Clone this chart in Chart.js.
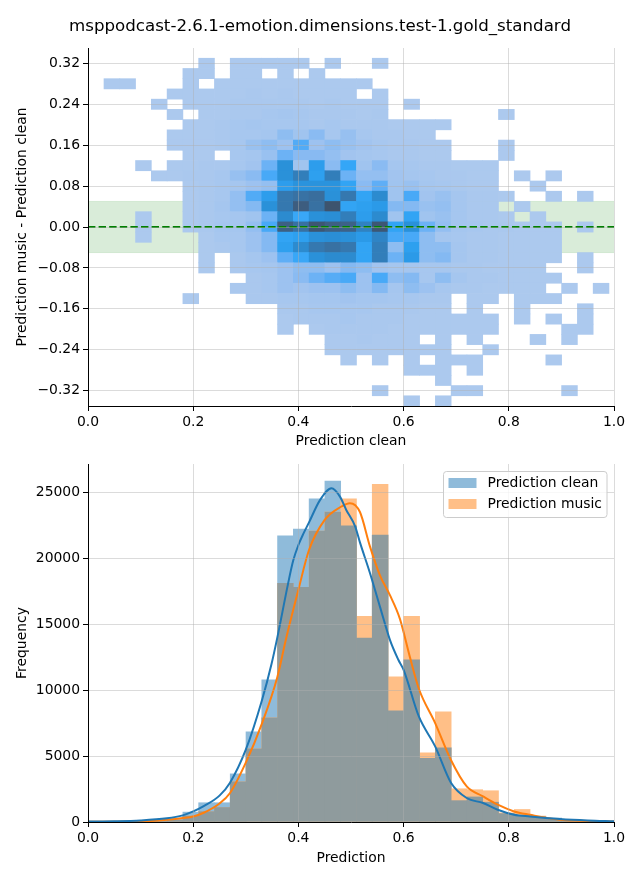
<!DOCTYPE html>
<html><head><meta charset="utf-8">
<script src="https://cdn.jsdelivr.net/npm/chart.js@4.4.1/dist/chart.umd.min.js"></script>
<style>
html,body{margin:0;padding:0;background:#fff;}
#wrap{position:relative;width:640px;height:880px;overflow:hidden;background:#fff;}
#title{position:absolute;left:0;top:16px;width:640px;text-align:center;font-family:"DejaVu Sans";font-size:16.67px;line-height:20px;color:#000;white-space:nowrap;}
#c1{position:absolute;left:0;top:0;width:640px;height:450px;}
#c2{position:absolute;left:0;top:450px;width:640px;height:430px;}
</style></head><body>
<div id="wrap">
<canvas id="c1" width="640" height="450"></canvas>
<canvas id="c2" width="640" height="430"></canvas>
<div id="title">msppodcast-2.6.1-emotion.dimensions.test-1.gold_standard</div>
</div>
<script>
// ---------------- DATA ----------------
const xTicks = [0, 0.2, 0.4, 0.6, 0.8, 1.0];
const topYTicks = [-0.32, -0.24, -0.16, -0.08, 0, 0.08, 0.16, 0.24, 0.32];
const freqTicks = [0, 5000, 10000, 15000, 20000, 25000];

const binCenters = [0.0154,0.0454,0.0754,0.1054,0.1354,0.1654,0.1954,0.2254,0.2554,0.2854,0.3154,0.3454,0.3754,0.4054,0.4354,0.4654,0.4954,0.5254,0.5554,0.5854,0.6154,0.6454,0.6754,0.7054,0.7354,0.7654,0.7954,0.8254,0.8554,0.8854,0.9154,0.9454,0.9754];
const rowCenters = [0.32,0.30,0.28,0.26,0.24,0.22,0.20,0.18,0.16,0.14,0.12,0.10,0.08,0.06,0.04,0.02,0.00,-0.02,-0.04,-0.06,-0.08,-0.10,-0.12,-0.14,-0.16,-0.18,-0.20,-0.22,-0.24,-0.26,-0.28,-0.30,-0.32,-0.34];
const rowHalfHeight = 0.01;

// relative counts per cell (rows follow rowCenters, columns follow binCenters)
const cellCounts = [
 [0,0,0,0,0,0,0,1,0,1,1,1,1,1,0,1,0,0,1,0,0,0,0,0,0,0,0,0,0,0,0,0,0],
 [0,0,0,0,0,0,1,1,0,1,1,0,1,0,1,0,0,0,0,0,0,0,0,0,0,0,0,0,0,0,0,0,0],
 [0,1,1,0,0,0,1,0,1,1,1,1,1,1,1,1,1,1,0,0,0,0,0,0,0,0,0,0,0,0,0,0,0],
 [0,0,0,0,0,1,1,1,1,1,2,1,2,1,1,1,1,0,1,0,0,0,0,0,0,0,0,0,0,0,0,0,0],
 [0,0,0,0,1,0,1,1,1,2,2,2,2,2,1,2,1,1,1,0,1,0,0,0,0,0,0,0,0,0,0,0,0],
 [0,0,0,0,0,1,0,1,1,2,2,3,4,3,2,2,2,1,2,0,0,0,0,0,0,0,1,0,0,0,0,0,0],
 [0,0,0,0,0,0,1,1,2,3,4,3,3,3,2,3,2,2,2,1,1,1,1,0,0,0,0,0,0,0,0,0,0],
 [0,0,0,0,0,1,1,1,2,3,3,4,12,6,13,3,9,3,2,2,1,1,0,0,0,0,0,0,0,0,0,0,0],
 [0,0,0,0,0,1,1,1,2,3,8,12,7,28,7,12,8,5,3,2,2,1,1,0,0,0,1,0,0,0,0,0,0],
 [0,0,0,0,0,0,1,1,0,3,4,8,22,14,14,10,5,4,3,2,2,1,1,0,0,0,1,0,0,0,0,0,0],
 [0,0,0,1,0,1,1,2,2,3,5,22,50,6,40,13,33,6,13,4,3,2,2,1,1,1,0,0,0,0,0,0,0],
 [0,0,0,0,1,1,2,2,3,9,13,30,50,65,38,65,22,10,10,5,4,3,2,2,1,1,0,1,0,1,0,0,0],
 [0,0,0,0,0,0,1,2,3,4,7,10,40,48,48,48,35,13,25,6,8,4,3,2,1,1,0,0,1,0,0,0,0],
 [0,0,0,0,0,0,1,2,3,10,28,40,70,75,78,50,70,35,55,6,30,5,8,4,2,2,1,0,0,1,0,1,0],
 [0,0,0,0,0,0,1,2,4,10,15,50,70,92,76,100,35,38,42,15,15,8,10,4,2,2,0,1,0,0,0,0,0],
 [0,0,0,1,0,0,1,2,3,4,6,22,55,32,50,52,65,40,55,6,35,6,8,4,2,2,1,0,1,0,0,0,0],
 [0,0,0,1,0,0,1,2,4,4,10,30,90,76,98,90,88,62,97,35,50,22,10,4,3,2,2,1,1,1,0,1,0],
 [0,0,0,1,0,0,0,1,3,3,7,15,35,38,50,52,50,42,60,30,30,12,4,3,2,2,1,1,1,1,0,0,0],
 [0,0,0,0,0,0,0,1,2,3,7,15,38,55,70,76,70,35,65,12,38,12,12,4,2,2,1,1,1,1,0,0,0],
 [0,0,0,0,0,0,0,1,0,2,4,7,25,32,50,55,55,35,65,22,42,12,15,4,2,2,1,1,1,1,0,1,0],
 [0,0,0,0,0,0,0,1,0,2,3,4,7,12,12,7,15,12,5,4,4,3,3,2,2,1,1,1,1,0,0,1,0],
 [0,0,0,0,0,0,0,0,0,0,2,3,7,13,22,27,30,7,30,12,15,3,12,4,2,2,1,1,1,1,0,0,0],
 [0,0,0,0,0,0,0,0,0,2,2,3,7,5,7,7,12,7,15,4,12,7,3,2,2,1,1,1,1,0,1,0,1],
 [0,0,0,0,0,0,1,0,0,0,2,2,3,3,4,4,5,4,4,3,3,2,2,0,1,1,0,1,1,1,0,0,0],
 [0,0,0,0,0,0,0,0,0,0,0,0,2,2,3,3,3,3,2,2,2,1,1,0,1,0,0,1,0,0,0,1,0],
 [0,0,0,0,0,0,0,0,0,0,0,0,1,2,2,2,3,2,2,2,1,1,1,1,1,1,0,1,0,1,0,1,0],
 [0,0,0,0,0,0,0,0,0,0,0,0,1,0,1,2,2,2,2,1,1,1,1,1,1,1,0,0,0,0,1,1,0],
 [0,0,0,0,0,0,0,0,0,0,0,0,0,0,0,1,1,2,1,1,1,0,1,0,1,0,0,0,1,0,1,0,0],
 [0,0,0,0,0,0,0,0,0,0,0,0,0,0,0,1,1,1,1,1,1,1,1,0,0,1,0,0,0,0,0,0,0],
 [0,0,0,0,0,0,0,0,0,0,0,0,0,0,0,0,1,0,1,0,1,0,1,1,1,0,0,0,0,1,0,0,0],
 [0,0,0,0,0,0,0,0,0,0,0,0,0,0,0,0,0,0,0,0,1,1,1,0,1,0,0,0,0,0,0,0,0],
 [0,0,0,0,0,0,0,0,0,0,0,0,0,0,0,0,0,0,0,0,0,0,1,0,0,0,0,0,0,0,0,0,0],
 [0,0,0,0,0,0,0,0,0,0,0,0,0,0,0,0,0,0,1,0,0,0,0,1,1,0,0,0,0,0,1,0,0],
 [0,0,0,0,0,0,0,0,0,0,0,0,0,0,0,0,0,0,0,0,1,0,1,0,0,0,0,0,0,0,0,0,0]
];

const bandLimits = [-0.05, 0.05];

const cleanCounts = [20,30,50,80,130,250,750,1460,1460,3650,6840,10780,21700,22200,24500,25850,22450,13950,21750,8430,12300,4820,5630,1620,1900,1500,640,490,400,300,200,120,60];
const musicCounts = [10,20,30,50,80,150,450,790,1100,3050,5550,7900,18100,17800,22050,23500,24500,15600,25600,11000,15600,5250,8350,2520,2450,2370,700,950,450,250,150,80,40];

const kdeCleanX = [0.0,0.05,0.10,0.15,0.18,0.20,0.22,0.25,0.27,0.30,0.331,0.349,0.36,0.38,0.39,0.40,0.41,0.42,0.441,0.463,0.479,0.491,0.508,0.517,0.536,0.555,0.574,0.59,0.60,0.629,0.66,0.69,0.72,0.751,0.779,0.81,0.84,0.897,0.95,1.0];
const kdeCleanY = [40,60,120,280,500,800,1200,2000,2980,5480,9270,12000,14000,18000,19800,21000,21900,22700,24400,25300,24670,23660,22400,21200,18880,16330,13810,12300,11540,8000,5730,2980,1820,1440,930,550,420,230,120,60];
const kdeMusicX = [0.0,0.08,0.12,0.15,0.18,0.20,0.22,0.25,0.27,0.30,0.331,0.36,0.376,0.40,0.42,0.45,0.481,0.498,0.517,0.536,0.555,0.574,0.593,0.612,0.629,0.66,0.69,0.72,0.751,0.779,0.81,0.84,0.897,0.935,1.0];
const kdeMusicY = [10,30,80,170,300,420,700,1400,2200,4500,7500,11000,13800,17600,20600,22900,23900,24170,23500,20900,18700,17200,15400,12500,10100,7500,4700,2700,1940,1310,800,550,170,100,30];

// ---------------- HUSL colormap (seaborn style) ----------------
const M = [[3.240969941904521,-1.537383177570093,-0.498610760293],[-0.96924363628087,1.87596750150772,0.041555057407175],[0.055630079696993,-0.20397695888897,1.056971514242878]];
const MINV = [[0.41239079926595,0.35758433938387,0.18048078840183],[0.21263900587151,0.71516867876775,0.072192315360733],[0.019330818715591,0.11919477979462,0.95053215224966]];
const REF_U = 0.19783000664283, REF_V = 0.46831999493879, KAPPA = 903.2962962, EPS = 0.0088564516;
function bounds(L){const sub1=Math.pow(L+16,3)/1560896;const sub2=sub1>EPS?sub1:L/KAPPA;const out=[];for(const [m1,m2,m3] of M){for(const t of [0,1]){const top1=(284517*m1-94839*m3)*sub2;const top2=(838422*m3+769860*m2+731718*m1)*L*sub2-769860*t*L;const bottom=(632260*m3-126452*m2)*sub2+126452*t;out.push([top1/bottom,top2/bottom]);}}return out;}
function maxChroma(L,H){const hr=H/360*Math.PI*2;let mn=Infinity;for(const [s,i] of bounds(L)){const len=i/(Math.sin(hr)-s*Math.cos(hr));if(len>=0&&len<mn)mn=len;}return mn;}
function huslToRgb(H,S,L){if(L>99.9999999)return[1,1,1];if(L<1e-8)return[0,0,0];const C=maxChroma(L,H)/100*S;const hr=H/180*Math.PI;const U=Math.cos(hr)*C,V=Math.sin(hr)*C;const vu=U/(13*L)+REF_U,vv=V/(13*L)+REF_V;const Y=L<=8?L/KAPPA:Math.pow((L+16)/116,3);const X=0-(9*Y*vu)/((vu-4)*vv-vu*vv);const Z=(9*Y-15*vv*Y-vv*X)/(3*vv);return M.map(r=>{const c=r[0]*X+r[1]*Y+r[2]*Z;return c<=0.0031308?12.92*c:1.055*Math.pow(c,1/2.4)-0.055;});}
function rgbToHusl(r,g,b){const lin=[r,g,b].map(c=>c>0.04045?Math.pow((c+0.055)/1.055,2.4):c/12.92);const [X,Y,Z]=MINV.map(row=>row[0]*lin[0]+row[1]*lin[1]+row[2]*lin[2]);const L=Y<=EPS?Y*KAPPA:116*Math.cbrt(Y)-16;const d=X+15*Y+3*Z;const vu=4*X/d,vv=9*Y/d;const U=13*L*(vu-REF_U),V=13*L*(vv-REF_V);const C=Math.hypot(U,V);let H=Math.atan2(V,U)*180/Math.PI;if(H<0)H+=360;return[H,C/maxChroma(L,H)*100,L];}
const [h0,s0] = rgbToHusl(31/255,119/255,180/255);
const cmapColors = [];
for(let i=0;i<256;i++){const xx=-1+2*i/293;const L=35+45*i/255;cmapColors.push(huslToRgb(h0,s0*Math.cos(xx),L));}
cmapColors.reverse();
function cmap(t){const idx=Math.min(255,Math.max(0,Math.floor(t*256)));const c=cmapColors[idx].map(v=>Math.round(Math.min(1,Math.max(0,v))*255));return `rgb(${c[0]},${c[1]},${c[2]})`;}

// ---------------- build cells ----------------
const cellData = [], cellColors = [];
let vmin = Infinity, vmax = -Infinity;
cellCounts.forEach(r => r.forEach(v => { if (v > 0) { vmin = Math.min(vmin, v); vmax = Math.max(vmax, v); } }));
rowCenters.forEach((yc, ri) => {
  binCenters.forEach((xc, ci) => {
    const v = cellCounts[ri][ci];
    if (v > 0) {
      cellData.push({x: xc, y: [yc - rowHalfHeight, yc + rowHalfHeight]});
      cellColors.push(cmap((v - vmin) / (vmax - vmin)));
    }
  });
});

// ---------------- common styling ----------------
const FONT = {family: 'DejaVu Sans', size: 13.9};
const GRID = 'rgba(176,176,176,0.45)';
Chart.defaults.font.family = 'DejaVu Sans';
Chart.defaults.color = '#000';
const fmtMinus = (s) => s.replace('-', '\u2212');

function xAxis(title, height, titlePadBottom) {
  return {
    type: 'linear', min: 0, max: 1, offset: false, bounds: 'data',
    afterBuildTicks: (a) => { a.ticks = xTicks.map(v => ({value: v})); },
    afterFit: (s) => { s.height = height; },
    grid: {offset: false, color: GRID, lineWidth: 1, z: 1, drawTicks: true, tickLength: 5, tickColor: '#000', tickWidth: 1},
    border: {display: true, color: '#000', width: 1, z: 2},
    ticks: {color: '#000', font: FONT, padding: 3, maxRotation: 0, autoSkip: false, callback: (v) => Number(v).toFixed(1)},
    title: {display: true, text: title, color: '#000', font: FONT, padding: {top: 0, bottom: titlePadBottom}}
  };
}
function yAxis(title, min, max, ticks, fmt) {
  return {
    type: 'linear', min: min, max: max, bounds: 'data',
    afterBuildTicks: (a) => { a.ticks = ticks.map(v => ({value: v})); },
    afterFit: (s) => { s.width = 88; },
    grid: {color: GRID, lineWidth: 1, z: 1, drawTicks: true, tickLength: 5, tickColor: '#000', tickWidth: 1},
    border: {display: true, color: '#000', width: 1, z: 2},
    ticks: {color: '#000', font: FONT, padding: 3, autoSkip: false, callback: fmt},
    title: {display: true, text: title, color: '#000', font: FONT, padding: {top: 14.4, bottom: 0}}
  };
}

// ---------------- top chart: 2D histogram ----------------
new Chart(document.getElementById('c1'), {
  type: 'bar',
  data: {
    datasets: [
      {type: 'line', data: [{x: 0, y: bandLimits[1]}, {x: 1, y: bandLimits[1]}], fill: {value: bandLimits[0]},
       backgroundColor: 'rgba(0,128,0,0.15)', borderColor: 'rgba(0,128,0,0.12)', borderWidth: 1, pointRadius: 0, order: 10},
      {type: 'line', data: [{x: 0, y: bandLimits[0]}, {x: 1, y: bandLimits[0]}], fill: false,
       borderColor: 'rgba(0,128,0,0.12)', borderWidth: 1, pointRadius: 0, order: 9},
      {type: 'bar', data: cellData, backgroundColor: cellColors, borderWidth: 0, grouped: false,
       barPercentage: 1, categoryPercentage: 1, order: 5},
      {type: 'line', data: [{x: 0, y: 0}, {x: 1, y: 0}], borderColor: '#008000', borderWidth: 2,
       borderDash: [7.4, 3.2], pointRadius: 0, fill: false, order: 1}
    ]
  },
  options: {
    animation: false, responsive: false, devicePixelRatio: 1, events: [],
    layout: {padding: {left: 0, right: 26, top: 48, bottom: 0}},
    plugins: {legend: {display: false}, tooltip: {enabled: false}, title: {display: false}},
    scales: {
      x: xAxis('Prediction clean', 44, 0),
      y: yAxis('Prediction music - Prediction clean', -0.35, 0.35, topYTicks, (v) => fmtMinus(Number(v).toFixed(2)))
    }
  }
});

// ---------------- bottom chart: histograms + KDE ----------------
// Colours of the two half-transparent layers as composited on white (music under clean)
const CLEAN_FILL = 'rgb(143,187,218)';
const MUSIC_FILL = 'rgb(255,191,135)';
const OVERLAP_FILL = 'rgb(143,155,157)';
const overlapCounts = cleanCounts.map((v, i) => Math.min(v, musicCounts[i]));

const legendItems = [
  {label: 'Prediction clean', color: CLEAN_FILL},
  {label: 'Prediction music', color: MUSIC_FILL}
];
const mplLegend = {
  id: 'mplLegend',
  afterDraw(chart) {
    const ctx = chart.ctx, a = chart.chartArea;
    const w = 163.5, h = 46, x0 = a.right - 7 - w, y0 = a.top + 7.5, r = 3;
    ctx.save();
    ctx.beginPath();
    ctx.moveTo(x0 + r, y0); ctx.lineTo(x0 + w - r, y0); ctx.arcTo(x0 + w, y0, x0 + w, y0 + r, r);
    ctx.lineTo(x0 + w, y0 + h - r); ctx.arcTo(x0 + w, y0 + h, x0 + w - r, y0 + h, r);
    ctx.lineTo(x0 + r, y0 + h); ctx.arcTo(x0, y0 + h, x0, y0 + h - r, r);
    ctx.lineTo(x0, y0 + r); ctx.arcTo(x0, y0, x0 + r, y0, r); ctx.closePath();
    ctx.fillStyle = 'rgba(255,255,255,0.8)'; ctx.fill();
    ctx.strokeStyle = '#cccccc'; ctx.lineWidth = 1; ctx.stroke();
    ctx.font = '13.9px "DejaVu Sans"'; ctx.textBaseline = 'middle'; ctx.textAlign = 'left';
    legendItems.forEach((it, i) => {
      const cy = y0 + 11.5 + i * 21;
      ctx.fillStyle = it.color; ctx.fillRect(x0 + 5, cy - 5, 28, 10);
      ctx.fillStyle = '#000'; ctx.fillText(it.label, x0 + 44, cy + 0.5);
    });
    ctx.restore();
  }
};

const barCommon = {type: 'bar', borderWidth: 0, grouped: false, barPercentage: 1, categoryPercentage: 1};
new Chart(document.getElementById('c2'), {
  type: 'bar',
  data: {
    datasets: [
      Object.assign({label: 'Prediction clean', data: binCenters.map((x, i) => ({x: x, y: cleanCounts[i]})),
       backgroundColor: CLEAN_FILL, order: 7}, barCommon),
      Object.assign({label: 'Prediction music', data: binCenters.map((x, i) => ({x: x, y: musicCounts[i]})),
       backgroundColor: MUSIC_FILL, order: 6}, barCommon),
      Object.assign({label: 'overlap', data: binCenters.map((x, i) => ({x: x, y: overlapCounts[i]})),
       backgroundColor: OVERLAP_FILL, order: 5}, barCommon),
      {type: 'line', data: kdeMusicX.map((x, i) => ({x: x, y: kdeMusicY[i]})), borderColor: '#ff7f0e', borderWidth: 2,
       pointRadius: 0, fill: false, cubicInterpolationMode: 'monotone', order: 4},
      {type: 'line', data: kdeCleanX.map((x, i) => ({x: x, y: kdeCleanY[i]})), borderColor: '#1f77b4', borderWidth: 2,
       pointRadius: 0, fill: false, cubicInterpolationMode: 'monotone', order: 3}
    ]
  },
  options: {
    animation: false, responsive: false, devicePixelRatio: 1, events: [],
    layout: {padding: {left: 0, right: 26, top: 14, bottom: 0}},
    plugins: {legend: {display: false}, tooltip: {enabled: false}, title: {display: false}},
    scales: {
      x: xAxis('Prediction', 58, 13.6),
      y: yAxis('Frequency', 0, 27142, freqTicks, (v) => String(v))
    }
  },
  plugins: [mplLegend]
});
</script>
</body></html>
